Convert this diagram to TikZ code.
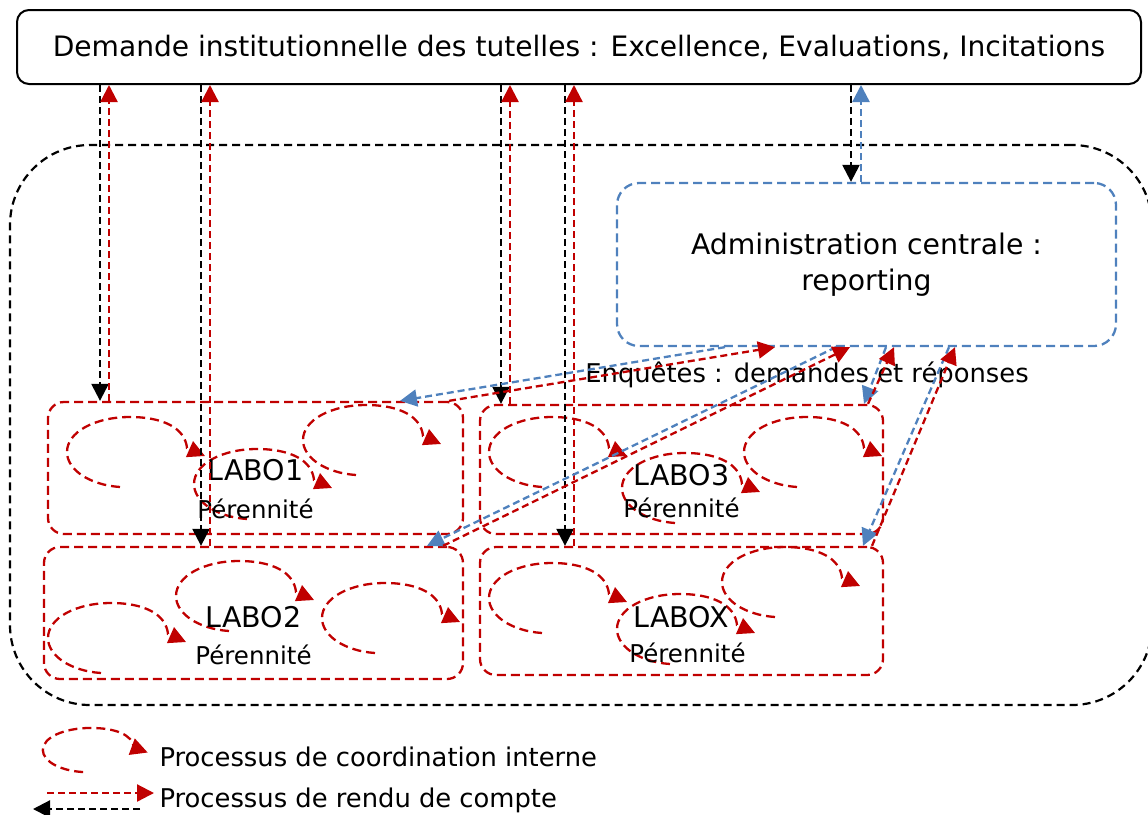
\documentclass[tikz,border=0pt]{standalone}
\usepackage{fontspec}
\setmainfont{DejaVu Sans}
\usetikzlibrary{arrows.meta, positioning}
\definecolor{tutred}{RGB}{192, 0, 0}
\definecolor{tutblue}{RGB}{79, 129, 189}

\tikzset{
  coordloop/.pic={
    \draw[loopline] (-15,35) .. controls (-45,33) and (-68,18) .. (-68,0)
      .. controls (-68,-20) and (-40,-35) .. (-5,-35)
      .. controls (28,-35) and (50,-24) .. (52,-4) -- (70,4);
  }
}

\begin{document}
\begin{tikzpicture}[x=1pt, y=-1pt,
  tutbox/.style={draw, line width=2pt, rounded corners=12pt, font=\fontsize{28.1}{33}\selectfont},
  univbox/.style={draw, line width=2.2pt, dash pattern=on 8pt off 5pt, rounded corners=80pt},
  adminbox/.style={draw=tutblue, line width=2.3pt, dash pattern=on 9pt off 5pt, rounded corners=22pt, align=center, font=\fontsize{28.3}{36}\selectfont},
  labobox/.style={draw=tutred, line width=2.3pt, dash pattern=on 9pt off 5pt, rounded corners=16pt},
  laboname/.style={font=\fontsize{28.5}{30}\selectfont},
  perenname/.style={font=\fontsize{24.5}{26}\selectfont},
  legtxt/.style={font=\fontsize{25.8}{28}\selectfont},
  loopline/.style={tutred, line width=2.3pt, dash pattern=on 9pt off 5pt, -{Triangle[length=17pt, width=17pt]}},
  blkarrow/.style={black, line width=2.3pt, dash pattern=on 7pt off 4pt, -{Triangle[length=17pt, width=17pt]}},
  redarrow/.style={tutred, line width=2.3pt, dash pattern=on 7pt off 4pt, -{Triangle[length=17pt, width=17pt]}},
  bluarrow/.style={tutblue, line width=2.3pt, dash pattern=on 7pt off 4pt, -{Triangle[length=17pt, width=17pt]}}]

  \useasboundingbox (0,0) rectangle (1148,814);

  % Tutelles and the institution frame
  \node[tutbox, minimum width=1124pt, minimum height=74pt] (tutelles) at (579,47) {Demande institutionnelle des tutelles : Excellence, Evaluations, Incitations};
  \node[univbox, minimum width=1142pt, minimum height=560pt] (univ) at (581,425) {};

  % Central administration
  \node[adminbox, minimum width=499pt, minimum height=163pt] (admin) at (866.5,264.5) {Administration centrale :\\reporting};
  \node[legtxt] (enq) at (807,375) {Enquêtes : demandes et réponses};

  % Labs
  \node[labobox, minimum width=415pt, minimum height=132pt] (labo1) at (255.5,468) {};
  \node[labobox, minimum width=419pt, minimum height=132pt] (labo2) at (253.5,613) {};
  \node[labobox, minimum width=403pt, minimum height=129pt] (labo3) at (681.5,469.5) {};
  \node[labobox, minimum width=403pt, minimum height=128pt] (labox) at (681.5,611) {};

  % Internal coordination loops
  \foreach \cx/\cy in {135/452, 262/484, 371/440, 244/596, 116/638, 390/618,
                       557/452, 690/488, 812/452, 557/598, 685/629, 790/582}
    \pic at (\cx,\cy) {coordloop};

  \node[laboname] (n1) at ([yshift=-2pt]labo1.center) {LABO1};
  \node[perenname, below=11pt of n1] (p1) {Pérennité};
  \node[laboname] (n2) at ([yshift=-4pt]labo2.center) {LABO2};
  \node[perenname, below=10pt of n2] (p2) {Pérennité};
  \node[laboname] (n3) at ([yshift=-5.5pt]labo3.center) {LABO3};
  \node[perenname, below=5pt of n3] (p3) {Pérennité};
  \node[laboname] (nx) at ([yshift=-6pt]labox.center) {LABOX};
  \node[perenname, below=8pt of nx, xshift=6pt] (px) {Pérennité};

  % Reporting to the tutelles
  \draw[blkarrow] (tutelles.south -| 100,0) -- (labo1.north -| 100,0);
  \draw[redarrow] (labo1.north -| 109,0) -- (tutelles.south -| 109,0);
  \draw[blkarrow] (tutelles.south -| 201,0) -- (labo2.north -| 201,0);
  \draw[redarrow] (labo2.north -| 210,0) -- (tutelles.south -| 210,0);
  \draw[blkarrow] (tutelles.south -| 501,0) -- (labo3.north -| 501,0);
  \draw[redarrow] (labo3.north -| 510,0) -- (tutelles.south -| 510,0);
  \draw[blkarrow] (tutelles.south -| 565,0) -- (labox.north -| 565,0);
  \draw[redarrow] (labox.north -| 574,0) -- (tutelles.south -| 574,0);
  \draw[blkarrow] (tutelles.south -| 851,0) -- (admin.north -| 851,0);
  \draw[bluarrow] (admin.north -| 861,0) -- (tutelles.south -| 861,0);

  % Surveys between administration and labs
  \draw[bluarrow] (admin.south -| 725,0) -- (labo1.north -| 400,0);
  \draw[redarrow] (labo1.north -| 449,0) -- (admin.south -| 775,0);
  \draw[bluarrow] (admin.south -| 836,0) -- (labo2.north -| 427,0);
  \draw[redarrow] (labo2.north -| 443,0) -- (admin.south -| 850,0);
  \draw[bluarrow] (admin.south -| 886,0) -- (labo3.north -| 864,0);
  \draw[redarrow] (labo3.north -| 868,0) -- (admin.south -| 894,0);
  \draw[bluarrow] (admin.south -| 949,0) -- (labox.north -| 863,0);
  \draw[redarrow] (labox.north -| 872,0) -- (admin.south -| 955,0);

  % Legend
  \pic[xscale=0.76, yscale=0.63] at (94.5,750) {coordloop};
  \node[legtxt, anchor=west] (legloop) at (156,757) {Processus de coordination interne};
  \node[legtxt, anchor=west] (legrendu) at (156,800) {Processus de rendu de compte};
  \coordinate (redtail) at (47,793);
  \coordinate (redtip) at (154,793);
  \coordinate (blktail) at (140,809);
  \coordinate (blktip) at (33,809);
  \draw[redarrow] (redtail) -- (redtip);
  \draw[blkarrow] (blktail) -- (blktip);
\end{tikzpicture}
\end{document}
